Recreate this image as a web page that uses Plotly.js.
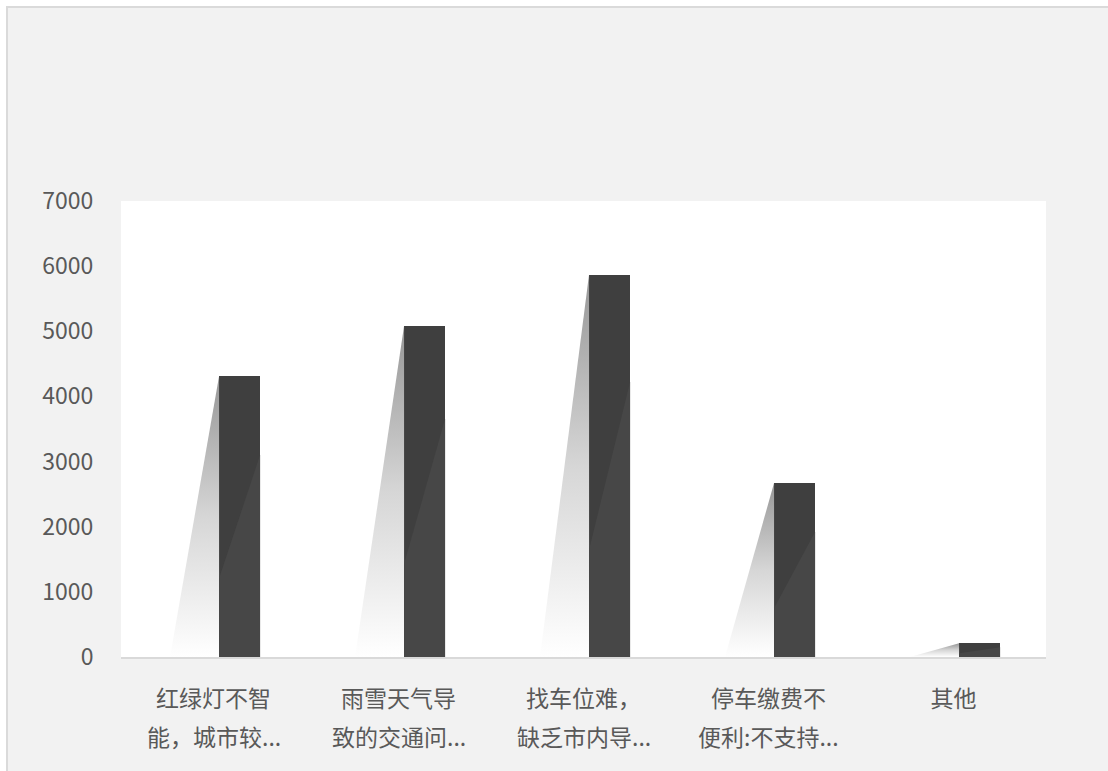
<!DOCTYPE html>
<html>
<head>
<meta charset="utf-8">
<script src="https://cdn.plot.ly/plotly-3.0.1.min.js"></script>
<style>
  html, body { margin: 0; padding: 0; background: #ffffff; overflow: hidden; }
  #wrap { position: absolute; left: 6px; top: 6px; width: 1102px; height: 765px;
          border-top: 2px solid #dadada; border-left: 2px solid #dadada; background: #f2f2f2; }
  #chart { width: 1102px; height: 765px; }
</style>
</head>
<body>
<div id="wrap"><div id="chart"></div></div>
<script>
// ---- data ----
const labelLine1 = ['红绿灯不智', '雨雪天气导', '找车位难，', '停车缴费不', '其他'];
const labelLine2 = ['能，城市较...', '致的交通问...', '缺乏市内导...', '便利:不支持...', ''];
const counts = [4310, 5080, 5870, 2670, 210];

// ---- styling constants ----
const BAR_OFFSET = 0.03, BAR_WIDTH = 0.222, SHADOW_W = 0.265;
const positions = counts.map((_, i) => i);
const fontFam = '"Noto Sans CJK SC", "Noto Sans", sans-serif';
const textColor = '#595959';

const traces = [];

// gradient "shadow" wedges to the left of each bar
counts.forEach((v, i) => {
  const left = positions[i] + BAR_OFFSET;
  traces.push({
    type: 'scatter', mode: 'lines', hoverinfo: 'skip', showlegend: false,
    x: [left - SHADOW_W, left, left, left - SHADOW_W],
    y: [0, v, 0, 0],
    fill: 'toself',
    line: { width: 0, color: 'rgba(0,0,0,0)' },
    fillgradient: { type: 'vertical',
      colorscale: [[0, 'rgba(255,255,255,1)'], [0.5, 'rgb(214,214,214)'], [1, 'rgb(150,150,150)']] }
  });
});

// main bars
traces.push({
  type: 'bar', x: positions, y: counts,
  offset: BAR_OFFSET, width: BAR_WIDTH,
  marker: { color: '#3f3f3f', line: { width: 0 } },
  hoverinfo: 'skip', showlegend: false
});

// lighter diagonal facet on each bar
const fx = [], fy = [];
counts.forEach((v, i) => {
  const l = positions[i] + BAR_OFFSET, r = l + BAR_WIDTH;
  fx.push(l, l, r, r, l, null);
  fy.push(0, v * 0.28, v * 0.72, 0, 0, null);
});
traces.push({
  type: 'scatter', mode: 'lines', x: fx, y: fy, fill: 'toself',
  fillcolor: '#474747', line: { width: 0, color: 'rgba(0,0,0,0)' },
  hoverinfo: 'skip', showlegend: false
});

const annotations = labelLine2.map((t, i) => ({
  x: positions[i], y: 0, xref: 'x', yref: 'y', text: t, showarrow: false,
  yanchor: 'middle', xanchor: 'center', yshift: -79,
  font: { family: fontFam, size: 23, color: textColor }
}));

const layout = {
  width: 1102, height: 765,
  paper_bgcolor: '#f2f2f2', plot_bgcolor: '#ffffff',
  margin: { l: 113, r: 64, t: 193, b: 116 },
  showlegend: false,
  bargap: 0,
  xaxis: {
    range: [-0.5, 4.5], tickmode: 'array', tickvals: positions, ticktext: labelLine1,
    showgrid: false, zeroline: false, showline: true, linecolor: '#d9d9d9', linewidth: 2,
    ticks: 'outside', ticklen: 20, tickcolor: 'rgba(0,0,0,0)',
    tickfont: { family: fontFam, size: 23, color: textColor }, fixedrange: true
  },
  yaxis: {
    range: [0, 7000], dtick: 1000, showgrid: false, zeroline: false, showline: false,
    ticks: 'outside', ticklen: 22, tickcolor: 'rgba(0,0,0,0)',
    tickfont: { family: fontFam, size: 23, color: textColor }, fixedrange: true
  },
  annotations: annotations
};

Plotly.newPlot('chart', traces, layout, { displayModeBar: false, staticPlot: true });
</script>
</body>
</html>
